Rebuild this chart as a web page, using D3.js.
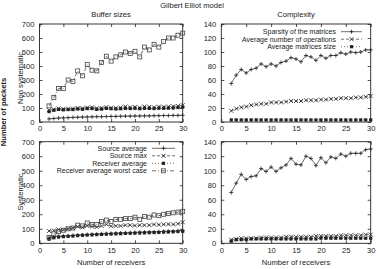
<!DOCTYPE html>
<html><head><meta charset="utf-8">
<script src="https://cdn.jsdelivr.net/npm/d3@7"></script>
<style>
html,body{margin:0;padding:0;background:#fff;}
svg{display:block;font-family:"Liberation Sans",Arial,sans-serif;}
</style></head>
<body>
<svg id="c" width="378" height="269"></svg>
<script>
const receivers = [2,3,4,5,6,7,8,9,10,11,12,13,14,15,16,17,18,19,20,21,22,23,24,25,26,27,28,29,30];
const xTicks = [0,5,10,15,20,25,30];
const bufferTicks = [0,100,200,300,400,500,600,700];
const complexityTicks = [0,20,40,60,80,100,120,140];

// Buffer sizes, non systematic
const nsSourceAvg = [22,25,28,30,31,33,34,35,36,37,38,38,39,40,40,41,42,42,43,43,44,44,45,45,46,46,47,47,48];
const nsSourceMax = [85,90,97,93,95,96,100,98,103,105,98,100,106,102,100,104,110,105,108,103,110,108,105,110,108,110,112,115,120];
const nsRecvAvg = [74,84,90,87,89,89,93,91,96,96,90,92,97,95,93,95,98,96,98,95,98,97,96,98,98,99,100,103,106];
const nsRecvWorst = [115,175,240,240,300,290,365,330,410,370,365,425,470,435,465,480,500,490,505,465,535,515,555,535,575,600,600,620,635];
// Buffer sizes, systematic
const sysSourceAvg = [38,44,48,50,52,54,57,58,60,62,63,65,67,68,70,71,72,73,75,76,77,78,79,80,82,83,84,86,88];
const sysSourceMax = [85,88,95,92,100,105,115,110,120,115,112,120,130,118,120,120,125,125,122,125,125,125,130,128,130,132,130,135,145];
const sysRecvAvg = [28,38,43,46,48,50,53,55,57,58,60,61,63,64,65,66,68,69,70,71,72,73,74,75,77,78,79,81,83];
const sysRecvWorst = [40,65,80,90,100,105,125,120,140,130,130,150,160,150,165,165,170,170,180,165,185,180,195,190,200,205,210,215,220];
// Complexity, non systematic
const cNsSparsity = [55,67,75,70,75,77,83,79,83,80,85,87,92,90,86,95,93,88,95,91,95,95,99,97,100,99,100,103,103];
const cNsOps = [16,19,21,22,24,25,26,26,28,28,28,29,30,30,30,31,31,31,32,32,33,33,34,34,34,35,35,36,37];
const cNsSize = [3,3,3,3,3,3,3,3,3,3,3,3,3,3,3,3,3,3,3,3,3,3,3,3,3,3,3,3,3];
// Complexity, systematic
const cSysSparsity = [70,83,95,88,92,93,103,99,105,99,104,108,117,109,108,120,117,107,118,111,119,117,123,120,124,124,124,129,130];
const cSysOps = [5,6,7,7,7,7,8,8,8,8,8,9,9,9,9,9,9,10,10,10,10,10,11,11,11,11,11,12,12];
const cSysSize = [3,5,5,5,6,6,6,6,6,6,6,6,6,6,6,6,6,6,7,7,7,7,7,7,7,7,7,7,7];

const bufferNames = ["Source average","Source max","Receiver average","Receiver average worst case"];
const complexityNames = ["Sparsity of the matrices","Average number of operations","Average matrices size"];

const styles = [
  {dash:null, marker:"plus"},
  {dash:"3,2", marker:"cross"},
  {dash:"1,2", marker:"fsquare"},
  {dash:"4,2,1,2", marker:"osquare"}
];
const ink = "#222";
const svg = d3.select("#c");
const FS = 7.6;
const LFS = 7.0;

function marker(g, type, x, y){
  const s = 2;
  if(type==="plus"){
    g.append("path").attr("d",`M${x-s},${y}H${x+s}M${x},${y-s}V${y+s}`).attr("stroke",ink).attr("stroke-width",0.8).attr("fill","none");
  } else if(type==="cross"){
    g.append("path").attr("d",`M${x-s},${y-s}L${x+s},${y+s}M${x-s},${y+s}L${x+s},${y-s}`).attr("stroke",ink).attr("stroke-width",0.8).attr("fill","none");
  } else if(type==="fsquare"){
    g.append("rect").attr("x",x-1.6).attr("y",y-1.6).attr("width",3.2).attr("height",3.2).attr("fill",ink);
  } else {
    g.append("rect").attr("x",x-2).attr("y",y-2).attr("width",4).attr("height",4).attr("fill","none").attr("stroke","#444").attr("stroke-width",0.8);
  }
}

function panel(o){
  const g = svg.append("g");
  const x = d3.scaleLinear().domain([0,30]).range([o.x0,o.x1]);
  const y = d3.scaleLinear().domain([0,o.ymax]).range([o.y1,o.y0]);
  g.append("rect").attr("x",o.x0).attr("y",o.y0).attr("width",o.x1-o.x0).attr("height",o.y1-o.y0)
    .attr("fill","none").attr("stroke",ink).attr("stroke-width",0.9);
  const ax = [
    d3.axisBottom(x).tickValues(xTicks).tickSize(-3).tickPadding(4),
    d3.axisTop(x).tickValues(xTicks).tickSize(-3).tickFormat(""),
    d3.axisLeft(y).tickValues(o.yTicks).tickSize(-3).tickPadding(5),
    d3.axisRight(y).tickValues(o.yTicks).tickSize(-3).tickFormat("")
  ];
  const pos = [`translate(0,${o.y1})`,`translate(0,${o.y0})`,`translate(${o.x0},0)`,`translate(${o.x1},0)`];
  ax.forEach((a,i)=>{
    const ag = g.append("g").attr("transform",pos[i]).call(a);
    ag.select(".domain").remove();
    ag.selectAll("line").attr("stroke",ink).attr("stroke-width",0.8);
    ag.selectAll("text").attr("font-size",FS).attr("fill",ink).attr("font-family","Liberation Sans, Arial, sans-serif");
  });
  const line = d3.line().x((d,i)=>x(receivers[i])).y(d=>y(d));
  o.series.forEach((s,k)=>{
    const st = styles[o.styleIdx[k]];
    g.append("path").datum(s).attr("d",line).attr("fill","none").attr("stroke","#333").attr("stroke-width",0.7)
      .attr("stroke-dasharray",st.dash);
    s.forEach((v,i)=>marker(g,st.marker,x(receivers[i]),y(v)));
  });
  if(o.legend){
    o.legend.names.forEach((n,k)=>{
      const ly = o.legend.y + k*o.legend.dy;
      const st = styles[o.styleIdx[k]];
      g.append("text").attr("x",o.legend.tx).attr("y",ly).attr("dy","0.35em").attr("text-anchor","end")
        .attr("font-size",LFS).attr("fill",ink).text(n);
      g.append("path").attr("d",`M${o.legend.sx0},${ly}H${o.legend.sx1}`).attr("stroke","#333").attr("stroke-width",0.7)
        .attr("stroke-dasharray",st.dash);
      marker(g,st.marker,(o.legend.sx0+o.legend.sx1)/2,ly);
    });
  }
  if(o.title){
    g.append("text").attr("x",(o.x0+o.x1)/2).attr("y",o.y0-7).attr("text-anchor","middle").attr("font-size",FS).attr("fill",ink).text(o.title);
  }
  if(o.xlabel){
    g.append("text").attr("x",(o.x0+o.x1)/2).attr("y",o.y1+22).attr("text-anchor","middle").attr("font-size",FS).attr("fill",ink).text(o.xlabel);
  }
  if(o.ylabel){
    g.append("text").attr("transform",`translate(${o.ylx},${o.yly})`+" rotate(-90)").attr("text-anchor","middle")
      .attr("font-size",FS).attr("fill",ink).text(o.ylabel);
  }
}

const L = [39.5,182.7], R = [221.3,370.7], T = [24,122], B = [141.7,243.3];

panel({x0:L[0],x1:L[1],y0:T[0],y1:T[1],ymax:700,yTicks:bufferTicks,
  series:[nsSourceAvg,nsSourceMax,nsRecvAvg,nsRecvWorst],styleIdx:[0,1,2,3],
  title:"Buffer sizes",ylabel:"Non systematic",ylx:23,yly:78});
panel({x0:R[0],x1:R[1],y0:T[0],y1:T[1],ymax:140,yTicks:complexityTicks,
  series:[cNsSparsity,cNsOps,cNsSize],styleIdx:[0,1,2],title:"Complexity",
  legend:{names:complexityNames,y:31.7,dy:7.5,tx:336,sx0:341,sx1:362}});
panel({x0:L[0],x1:L[1],y0:B[0],y1:B[1],ymax:700,yTicks:bufferTicks,
  series:[sysSourceAvg,sysSourceMax,sysRecvAvg,sysRecvWorst],styleIdx:[0,1,2,3],
  xlabel:"Number of receivers",ylabel:"Systematic",ylx:23,yly:192,
  legend:{names:bufferNames,y:148.3,dy:7.5,tx:147,sx0:152,sx1:175}});
panel({x0:R[0],x1:R[1],y0:B[0],y1:B[1],ymax:140,yTicks:complexityTicks,
  series:[cSysSparsity,cSysOps,cSysSize],styleIdx:[0,1,2],xlabel:"Number of receivers"});

svg.append("text").attr("x",192).attr("y",8).attr("text-anchor","middle").attr("font-size",FS).attr("fill",ink).text("Gilbert Elliot model");
svg.append("text").attr("transform","translate(6,112) rotate(-90)").attr("text-anchor","middle")
  .attr("font-size",FS).attr("font-weight","bold").attr("fill",ink).text("Number of packets");
</script>
</body></html>
